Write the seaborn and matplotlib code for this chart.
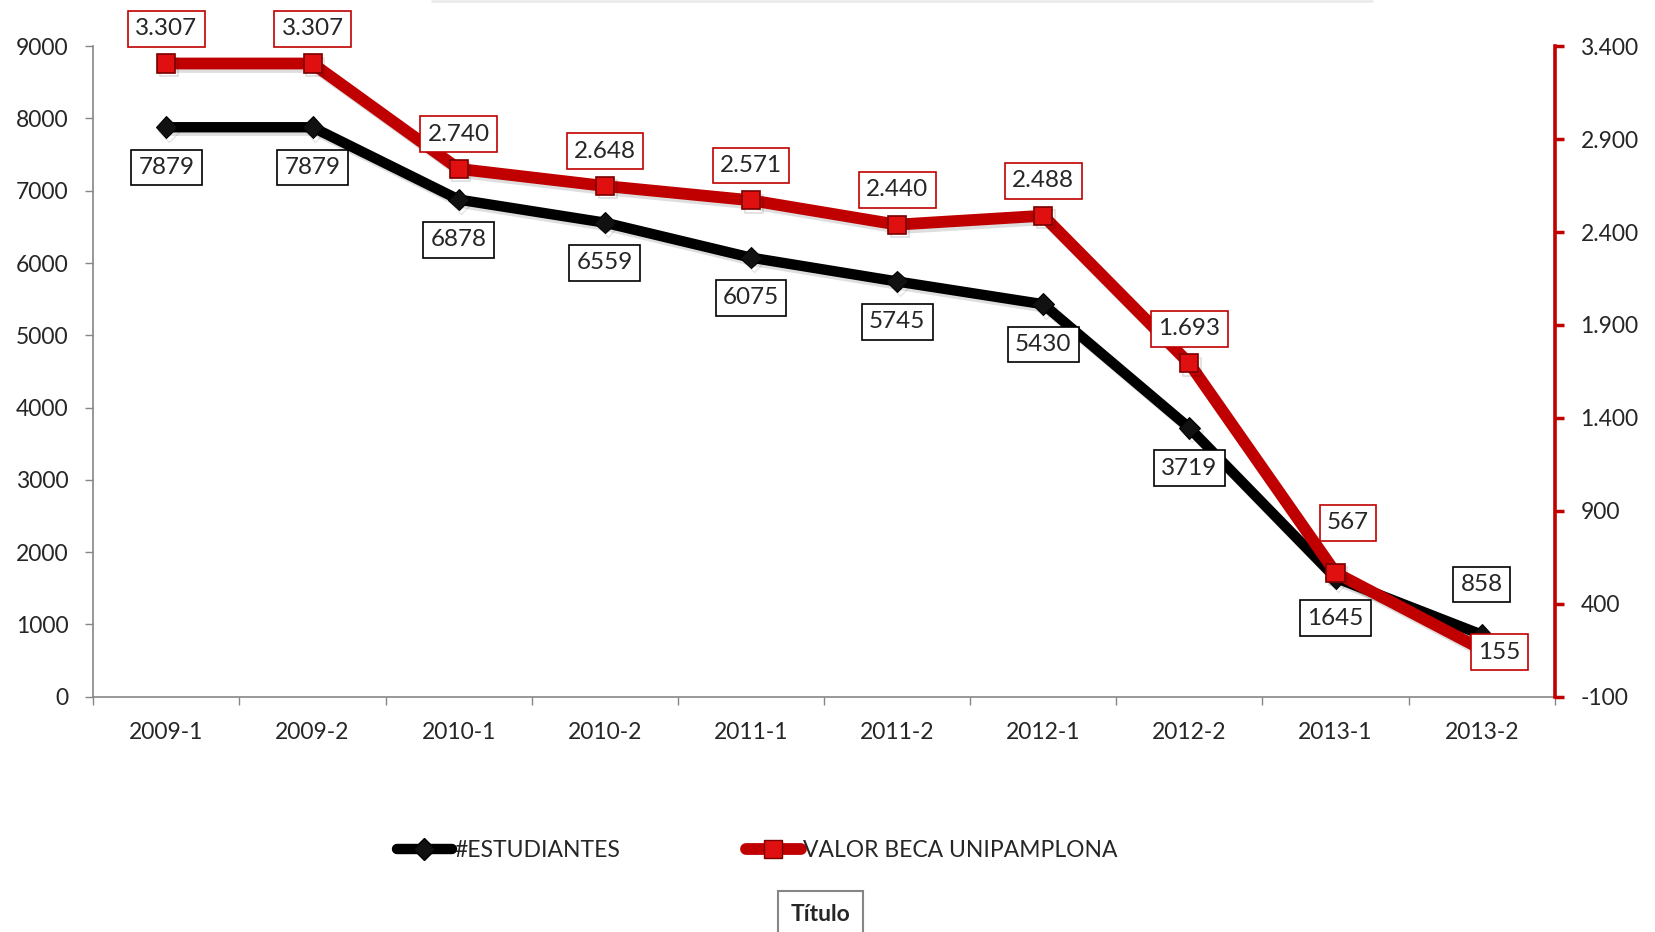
import numpy as np
import pandas as pd
import seaborn as sns
import matplotlib.pyplot as plt
import matplotlib.patheffects as pe
from matplotlib.lines import Line2D
from matplotlib.ticker import FixedLocator, FuncFormatter

# data
periodos = ["2009-1", "2009-2", "2010-1", "2010-2", "2011-1",
            "2011-2", "2012-1", "2012-2", "2013-1", "2013-2"]
estudiantes = [7879, 7879, 6878, 6559, 6075, 5745, 5430, 3719, 1645, 858]
valor_beca = [3307, 3307, 2740, 2648, 2571, 2440, 2488, 1693, 567, 155]
left_ticks = list(range(0, 9001, 1000))
right_ticks = list(range(-100, 3401, 500))

RED = "#C00000"
GRAY = "#868686"

sns.set_style("white")
plt.rcParams['font.family'] = ['Lato', 'DejaVu Sans']


def miles(v, pos=None):
    # spanish style thousands separator
    return f"{int(v):,}".replace(",", ".")


df = pd.DataFrame({"periodo": periodos, "est": estudiantes, "beca": valor_beca})

fig = plt.figure(figsize=(16.55, 9.32), dpi=100)
ax = fig.add_axes([0.0564, 0.2525, 0.883, 0.6979])
ax2 = ax.twinx()

shadow = [pe.SimpleLineShadow(offset=(2, -2.5), alpha=0.13, shadow_color="black"),
          pe.Normal()]

sns.lineplot(data=df, x="periodo", y="est", ax=ax, color="black", linewidth=7.5,
             marker="D", markersize=11, markerfacecolor="#111111",
             markeredgecolor="black", solid_capstyle="round")
sns.lineplot(data=df, x="periodo", y="beca", ax=ax2, color=RED, linewidth=8.5,
             marker="s", markersize=13, markerfacecolor="#E01010",
             markeredgecolor="#7A0000", markeredgewidth=1.2, solid_capstyle="round")
for a in (ax, ax2):
    for ln in a.get_lines():
        ln.set_path_effects(shadow)

ax.set_xlim(-0.5, len(periodos) - 0.5)
ax.set_ylim(0, 9000)
ax2.set_ylim(-100, 3400)

# left axis
ax.yaxis.set_major_locator(FixedLocator(left_ticks))
ax.tick_params(axis="y", which="major", direction="out", length=6, width=1,
               color=GRAY, pad=12, labelsize=16.5, left=True)
ax.set_ylabel("")
ax.set_xlabel("")

# x axis: labels in the middle, ticks on band boundaries
ax.set_xticks(range(len(periodos)))
ax.set_xticklabels(periodos)
ax.set_xticks(np.arange(-0.5, len(periodos)), minor=True)
ax.tick_params(axis="x", which="major", length=0, pad=18, labelsize=16.5)
ax.tick_params(axis="x", which="minor", direction="out", length=6, width=1,
               color=GRAY, bottom=True)

# right axis
ax2.yaxis.set_major_locator(FixedLocator(right_ticks))
ax2.yaxis.set_major_formatter(FuncFormatter(miles))
ax2.tick_params(axis="y", direction="out", length=6.5, width=2.5, color=RED,
                pad=12, labelsize=16.5, right=True)
ax2.set_ylabel("")

ax.spines["top"].set_visible(False)
ax2.spines["top"].set_visible(False)
ax.spines["right"].set_visible(False)
ax2.spines["left"].set_visible(False)
ax2.spines["bottom"].set_visible(False)
ax.spines["left"].set_color(GRAY)
ax.spines["bottom"].set_color(GRAY)
ax.spines["left"].set_linewidth(1.2)
ax.spines["bottom"].set_linewidth(1.2)
ax2.spines["right"].set_color(RED)
ax2.spines["right"].set_linewidth(2.6)
ax.grid(False)
ax2.grid(False)

# data labels
LBL = 17.5
est_off = {9: (0, 36)}
beca_off = {8: (9, 36), 7: (0, 25), 9: (13, -2)}
for i, v in enumerate(estudiantes):
    dx, dy = est_off.get(i, (0, -29))
    ax.annotate(str(v), (i, v), xytext=(dx, dy), textcoords="offset points",
                ha="center", va="center", fontsize=LBL, zorder=5,
                bbox=dict(boxstyle="square,pad=0.3", fc="white", ec="black", lw=1.2))
for i, v in enumerate(valor_beca):
    dx, dy = beca_off.get(i, (0, 25))
    ax2.annotate(miles(v), (i, v), xytext=(dx, dy), textcoords="offset points",
                 ha="center", va="center", fontsize=LBL, zorder=5,
                 bbox=dict(boxstyle="square,pad=0.3", fc="white", ec=RED, lw=1.2))

# legend
handles = [
    Line2D([], [], color="black", lw=7.5, marker="D", markersize=11,
           markerfacecolor="#111111", markeredgecolor="black", solid_capstyle="round"),
    Line2D([], [], color=RED, lw=8.5, marker="s", markersize=13,
           markerfacecolor="#E01010", markeredgecolor="#7A0000", solid_capstyle="round"),
]
fig.legend(handles, ["#ESTUDIANTES", "VALOR BECA UNIPAMPLONA"], loc="center",
           bbox_to_anchor=(0.4575, 0.087), ncol=2, frameon=False, fontsize=16.5,
           handlelength=2.4, handletextpad=0.1, columnspacing=5.5)

# clipped title box at the bottom
fig.text(0.496, 0.008, "Título", ha="center", va="bottom", fontsize=16.5,
         fontweight="bold",
         bbox=dict(boxstyle="square,pad=0.55", fc="white", ec=GRAY, lw=1.5))

# faint shadow of a clipped box at the top
fig.add_artist(Line2D([0.261, 0.829], [0.999, 0.999], transform=fig.transFigure,
                      color="#ebebeb", lw=2))

fig.savefig("out.png", dpi=100)
